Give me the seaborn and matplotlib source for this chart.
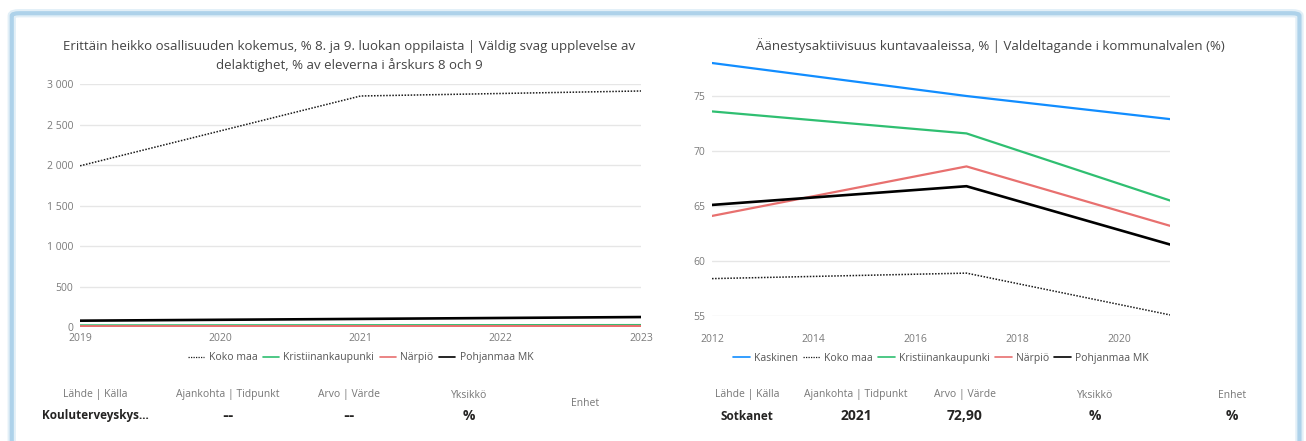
import numpy as np
import pandas as pd
import matplotlib.pyplot as plt
import seaborn as sns
from matplotlib.patches import FancyBboxPatch
from matplotlib.lines import Line2D
from matplotlib.ticker import FuncFormatter

sns.set_theme(style="white")
plt.rcParams['font.family'] = ['Open Sans', 'DejaVu Sans']

# left chart: school health survey
years_left = [2019, 2021, 2023]
left_koko_maa = [1990, 2852, 2914]
left_kristiinankaupunki = [20, 22, 24]
left_narpio = [10, 11, 12]
left_pohjanmaa = [78, 100, 123]

# right chart: municipal election turnout
years_right = [2012, 2017, 2021]
right_kaskinen = [78.0, 75.0, 72.9]
right_koko_maa = [58.4, 58.9, 55.1]
right_kristiinankaupunki = [73.6, 71.6, 65.5]
right_narpio = [64.1, 68.6, 63.2]
right_pohjanmaa = [65.1, 66.8, 61.5]

left_title = ("Erittäin heikko osallisuuden kokemus, % 8. ja 9. luokan oppilaista | Väldig svag upplevelse av\n"
              "delaktighet, % av eleverna i årskurs 8 och 9")
right_title = "Äänestysaktiivisuus kuntavaaleissa, % | Valdeltagande i kommunalvalen (%)"

info_labels = ["Lähde | Källa", "Ajankohta | Tidpunkt", "Arvo | Värde", "Yksikkö", "Enhet"]
left_info = ["Kouluterveyskys...", "--", "--", "%", ""]
right_info = ["Sotkanet", "2021", "72,90", "%", "%"]

colors = {"Kaskinen": "#118DFF", "Koko maa": "#1a1a1a", "Kristiinankaupunki": "#2FBF71",
          "Närpiö": "#E8706F", "Pohjanmaa MK": "#000000"}
widths = {"Kaskinen": 1.6, "Koko maa": 1.1, "Kristiinankaupunki": 1.6,
          "Närpiö": 1.6, "Pohjanmaa MK": 1.9}

left_df = pd.DataFrame({
    "Koko maa": left_koko_maa, "Kristiinankaupunki": left_kristiinankaupunki,
    "Närpiö": left_narpio, "Pohjanmaa MK": left_pohjanmaa}, index=years_left)
right_df = pd.DataFrame({
    "Kaskinen": right_kaskinen, "Koko maa": right_koko_maa,
    "Kristiinankaupunki": right_kristiinankaupunki, "Närpiö": right_narpio,
    "Pohjanmaa MK": right_pohjanmaa}, index=years_right)

W, H = 1306, 441
fig = plt.figure(figsize=(W / 100, H / 100), dpi=100)
fig.patch.set_facecolor("white")

# card frame
for lw, alpha in [(6, 0.25), (3, 0.6)]:
    fig.patches.append(FancyBboxPatch((0.009, -0.05), 0.986, 1.02, boxstyle="round,pad=0,rounding_size=0.006",
                                      transform=fig.transFigure, facecolor="none",
                                      edgecolor="#8CC0E2", linewidth=lw, alpha=alpha))

ax1 = fig.add_axes([0.0613, 0.2585, 0.4295, 0.551])
ax2 = fig.add_axes([0.5452, 0.2834, 0.3507, 0.5812])

tick_col = "#7a7a7a"
grid_col = "#e6e6e6"


def draw(ax, df, xpad):
    for name in df.columns:
        sub = pd.DataFrame({"year": df.index, "value": df[name].values})
        ls = (0, (1, 1)) if name == "Koko maa" else "-"
        sns.lineplot(data=sub, x="year", y="value", ax=ax, color=colors[name],
                     linewidth=widths[name], linestyle=ls, legend=False)
    ax.set_xlabel("")
    ax.set_ylabel("")
    for s in ax.spines.values():
        s.set_visible(False)
    ax.grid(axis="y", color=grid_col, linewidth=1)
    ax.set_axisbelow(True)
    ax.tick_params(axis="y", colors=tick_col, labelsize=7.5, length=0, pad=5)
    ax.tick_params(axis="x", colors=tick_col, labelsize=7.5, length=0, pad=xpad)
    handles = [Line2D([], [], color=colors[n], linewidth=1.2 if n != "Koko maa" else 0.9,
                      linestyle=(0, (1, 1)) if n == "Koko maa" else "-") for n in df.columns]
    return handles


h1 = draw(ax1, left_df, 4)
ax1.set_xlim(2019, 2023)
ax1.set_xticks([2019, 2020, 2021, 2022, 2023])
ax1.set_ylim(0, 3000)
ax1.set_yticks([0, 500, 1000, 1500, 2000, 2500, 3000])
ax1.yaxis.set_major_formatter(FuncFormatter(lambda v, p: f"{int(v):,}".replace(",", " ")))
fig.text(349 / W, 1 - 56 / H, left_title, ha="center", va="center", fontsize=9.5,
         color="#444444", linespacing=1.45)
ax1.legend(h1, left_df.columns, loc="upper center", bbox_to_anchor=(0.5, -0.066), ncol=4,
           frameon=False, fontsize=7.5, handlelength=1.6, handletextpad=0.4, columnspacing=0.5,
           labelcolor="#555555")

h2 = draw(ax2, right_df, 13)
ax2.set_xlim(2012, 2021)
ax2.set_xticks([2012, 2014, 2016, 2018, 2020])
ax2.set_ylim(55, 78.3)
ax2.set_yticks([55, 60, 65, 70, 75])
fig.text(990 / W, 1 - 46 / H, right_title, ha="center", va="center", fontsize=9.5, color="#444444")
ax2.legend(h2, right_df.columns, loc="upper center", bbox_to_anchor=(0.5, -0.108), ncol=5,
           frameon=False, fontsize=7.5, handlelength=1.6, handletextpad=0.4, columnspacing=0.5,
           labelcolor="#555555")

# info tables
left_x = [95, 228, 349, 469, 585]
right_x = [747, 856, 965, 1095, 1232]
for xs, vals in [(left_x, left_info), (right_x, right_info)]:
    for x, lab, val in zip(xs, info_labels, vals):
        if lab == "Enhet" and val == "":
            fig.text(x / W, 1 - 403 / H, lab, ha="center", va="center", fontsize=7.5, color="#777777")
            continue
        fig.text(x / W, 1 - 395 / H, lab, ha="center", va="center", fontsize=7.5, color="#777777")
        big = val not in ("Kouluterveyskys...", "Sotkanet")
        fam = ["DejaVu Sans"] if val == "--" else ["Open Sans", "DejaVu Sans"]
        fig.text(x / W, 1 - 416 / H, val, ha="center", va="center", family=fam,
                 fontsize=10 if big else 8.5, fontweight="bold", color="#252423")

fig.savefig("out.png", dpi=100, facecolor="white")
